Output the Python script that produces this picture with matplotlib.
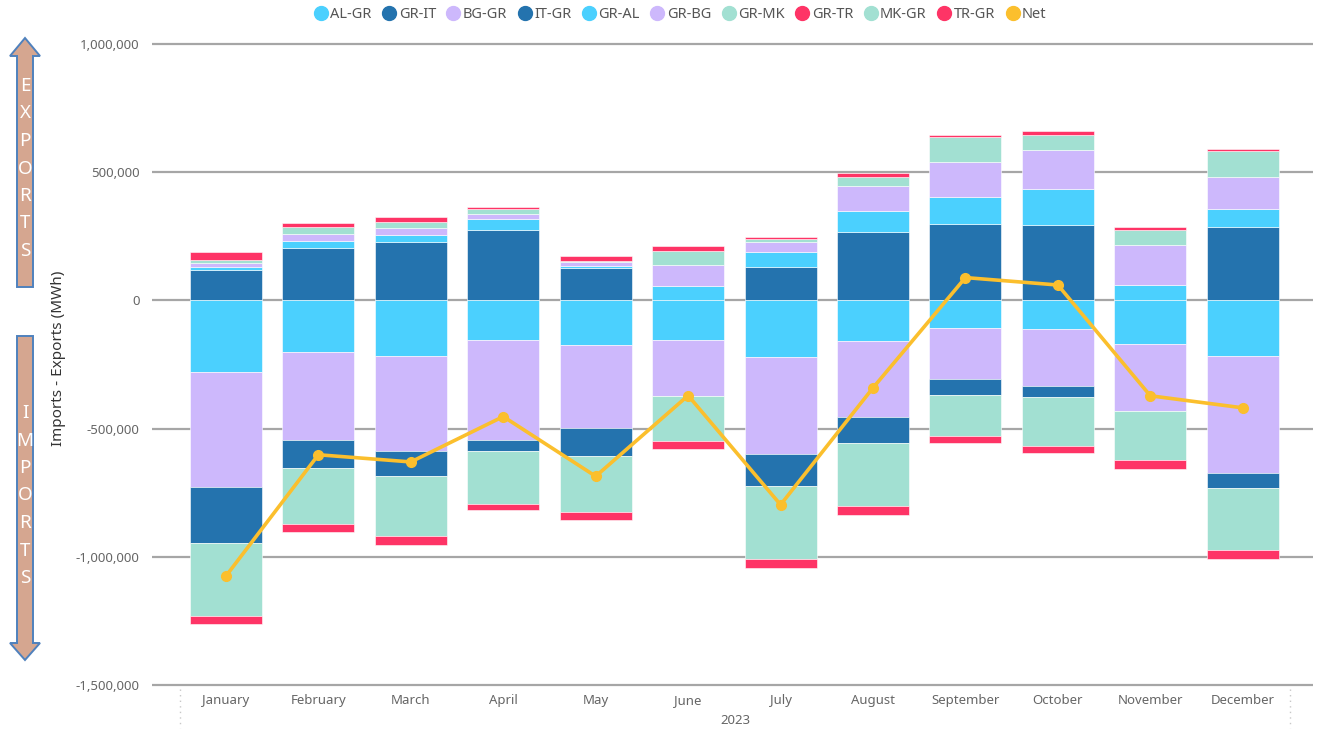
import numpy as np
import matplotlib
matplotlib.use('Agg')
from matplotlib import pyplot as plt
from matplotlib.lines import Line2D
from matplotlib.patches import Polygon

plt.rcParams['font.family'] = ['Noto Sans', 'DejaVu Sans']

months = ['January', 'February', 'March', 'April', 'May', 'June', 'July',
          'August', 'September', 'October', 'November', 'December']
year = '2023'

# exports (positive side), MWh
gr_it = [120000, 205000, 227000, 273000, 126000, 0, 130000, 265000, 298000, 293000, 0, 285000]
gr_al = [9000, 26000, 28000, 45000, 7000, 55000, 59000, 85000, 104000, 142000, 59000, 72000]
gr_bg = [18000, 28000, 29000, 19000, 15000, 83000, 39000, 98000, 139000, 152000, 156000, 123000]
gr_mk = [12000, 26000, 22000, 19000, 7000, 54000, 13000, 35000, 95000, 60000, 60000, 104000]
gr_tr = [30000, 18000, 21000, 8000, 17000, 19000, 6000, 15000, 9000, 13000, 12000, 7000]

# imports (negative side), MWh
al_gr = [-279000, -200000, -215000, -154000, -175000, -153000, -221000, -160000, -107000, -111000, -171000, -218000]
bg_gr = [-448000, -344000, -372000, -390000, -322000, -221000, -378000, -295000, -200000, -221000, -259000, -456000]
it_gr = [-221000, -108000, -99000, -44000, -111000, 0, -123000, -102000, -63000, -43000, 0, -57000]
mk_gr = [-282000, -219000, -232000, -205000, -217000, -173000, -287000, -246000, -157000, -191000, -192000, -242000]
tr_gr = [-32000, -33000, -36000, -24000, -32000, -34000, -35000, -34000, -30000, -31000, -34000, -34000]

net = [-1075000, -602000, -630000, -453000, -686000, -371000, -797000, -341000, 89000, 60000, -372000, -419000]

c_light = '#4bd0fe'
c_dark = '#2473ae'
c_purple = '#cdb8fc'
c_mint = '#a2e0d2'
c_red = '#fe3466'
c_net = '#fbbf2d'

fig = plt.figure(figsize=(13.22, 7.33), dpi=100)

# overlay in pixel coordinates for the arrows and little separators
ov = fig.add_axes([0, 0, 1, 1], zorder=0)
ov.set_xlim(0, 1322)
ov.set_ylim(733, 0)
ov.axis('off')

ax = fig.add_axes([152/1322, 1-687/733, (1313-152)/1322, 645/733], zorder=1)
ax.patch.set_alpha(0)

x = np.arange(len(months))
w = 0.78

pos = [(gr_it, c_dark), (gr_al, c_light), (gr_bg, c_purple), (gr_mk, c_mint), (gr_tr, c_red)]
neg = [(al_gr, c_light), (bg_gr, c_purple), (it_gr, c_dark), (mk_gr, c_mint), (tr_gr, c_red)]

bottom = np.zeros(len(months))
for vals, col in pos:
    ax.bar(x, vals, w, bottom=bottom, color=col, edgecolor='white', linewidth=0.4, zorder=2)
    bottom = bottom + np.array(vals)

bottom = np.zeros(len(months))
for vals, col in neg:
    ax.bar(x, vals, w, bottom=bottom, color=col, edgecolor='white', linewidth=0.4, zorder=2)
    bottom = bottom + np.array(vals)

ax.plot(x, net, color=c_net, lw=2.6, marker='o', markersize=7, zorder=3)

ax.set_xlim(-0.8, 11.76)
ax.set_ylim(-1507800, 1007800)
ticks = [-1500000, -1000000, -500000, 0, 500000, 1000000]
ax.set_yticks(ticks)
ax.set_yticklabels(['{:,}'.format(t) for t in ticks])
ax.yaxis.grid(True, color='#a6a6a6', lw=1.6)
ax.set_axisbelow(True)
for s in ax.spines.values():
    s.set_visible(False)
ax.tick_params(axis='y', length=0, pad=9, labelsize=9.5, labelcolor='#666666')
ax.set_xticks(x)
ax.set_xticklabels(months)
ax.tick_params(axis='x', length=0, pad=5, labelsize=9.5, labelcolor='#666666')

fig.text(58/1322, 1-358/733, 'Imports - Exports (MWh)', rotation=90, ha='center', va='center',
         fontsize=11, color='#333333')
fig.text(735/1322, 1-720/733, year, ha='center', va='center', fontsize=9.5, color='#666666')

# dotted category boundaries under the axis
for xp in [180, 1290]:
    ov.plot([xp, xp], [689, 728], ls=(0, (1, 3)), color='#c8c8c8', lw=1)

# export / import arrows
up = [(25, 38), (40, 56), (33, 56), (33, 287), (17, 287), (17, 56), (10, 56)]
down = [(17, 336), (33, 336), (33, 643), (40, 643), (25, 660), (10, 643), (17, 643)]
for pts in [up, down]:
    ov.add_patch(Polygon(pts, closed=True, facecolor='#d5a690', edgecolor='#4f81bd', lw=1.4))
for i, ch in enumerate('EXPORTS'):
    ov.text(25, 86 + i*27.5, ch, color='white', fontsize=13.5, ha='center', va='center')
for i, ch in enumerate('IMPORTS'):
    ov.text(25, 413 + i*27.5, ch, color='white', fontsize=13.5, ha='center', va='center')

labels = ['AL-GR', 'GR-IT', 'BG-GR', 'IT-GR', 'GR-AL', 'GR-BG', 'GR-MK', 'GR-TR', 'MK-GR', 'TR-GR', 'Net']
colors = [c_light, c_dark, c_purple, c_dark, c_light, c_purple, c_mint, c_red, c_mint, c_red, c_net]
handles = [Line2D([], [], ls='none', marker='o', markersize=10, color=c) for c in colors]
fig.legend(handles, labels, loc='center', bbox_to_anchor=(679/1322, 1-15/733), ncol=11,
           frameon=False, handletextpad=0.0, columnspacing=0.55, handlelength=1.3,
           fontsize=10.5, labelcolor='#555555')

fig.savefig('out.png', dpi=100)
